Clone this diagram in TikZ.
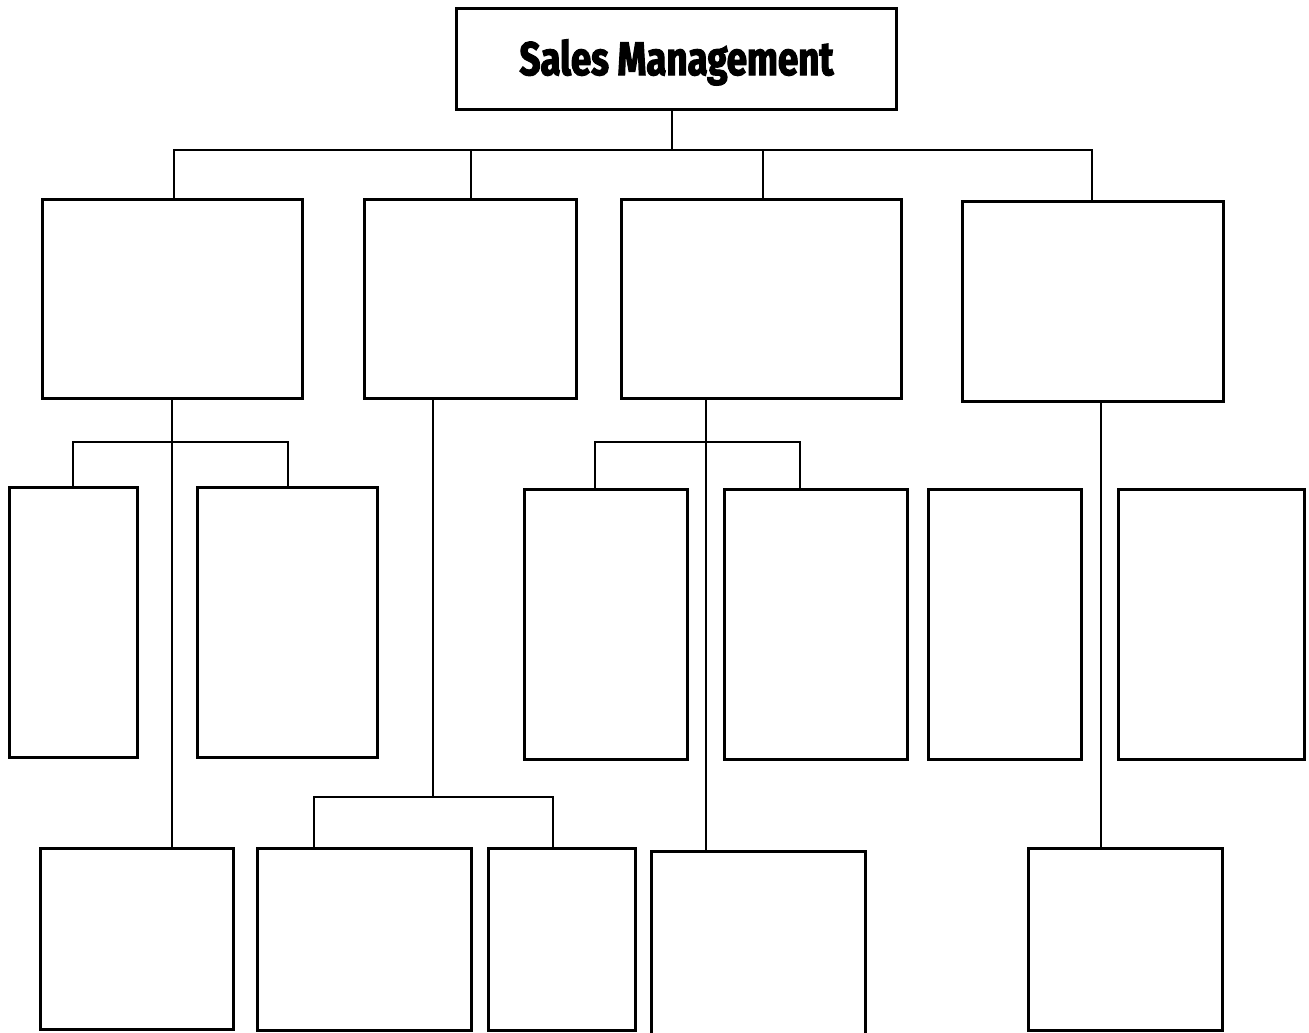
\documentclass[tikz,border=0pt]{standalone}
\usepackage{fontspec}
\newfontfamily\titlefont[FakeStretch=0.78,FakeBold=2.5]{Fira Sans}
\begin{document}
\begin{tikzpicture}[x=1pt,y=-1pt,
  box/.style={draw=black,line width=2.6pt,fill=white,inner sep=0pt,rectangle},
  conn/.style={draw=black,line width=2.4pt}]
\useasboundingbox (0,0) rectangle (1309,1033);
\fill[white] (0,0) rectangle (1309,1033);
% top
\node[box,minimum width=440pt,minimum height=101pt] (T) at (676.5,59) {};
\node[anchor=base,inner sep=0pt] (Tt) at (676.5,75)
  {\titlefont\fontsize{47}{50}\selectfont\bfseries Sales Management};
% level 2
\node[box,minimum width=260pt,minimum height=199pt] (A) at (172.5,299) {};
\node[box,minimum width=212pt,minimum height=199pt] (B) at (470.5,299) {};
\node[box,minimum width=280pt,minimum height=199pt] (C) at (761.5,299) {};
\node[box,minimum width=261pt,minimum height=200pt] (D) at (1093,301.5) {};
% level 3
\node[box,minimum width=128pt,minimum height=270pt] (F) at (73.5,622.5) {};
\node[box,minimum width=180pt,minimum height=270pt] (G) at (287.5,622.5) {};
\node[box,minimum width=163pt,minimum height=270pt] (J) at (606,624.5) {};
\node[box,minimum width=183pt,minimum height=270pt] (K) at (816,624.5) {};
\node[box,minimum width=153pt,minimum height=270pt] (M) at (1005,624.5) {};
\node[box,minimum width=186pt,minimum height=270pt] (N) at (1211.5,624.5) {};
% level 4
\node[box,minimum width=193pt,minimum height=181pt] (E) at (137,939) {};
\node[box,minimum width=214pt,minimum height=182pt] (H) at (364.5,939.5) {};
\node[box,minimum width=147pt,minimum height=182pt] (I) at (562,939.5) {};
\node[box,minimum width=214pt,minimum height=200pt] (L) at (758.5,951.5) {};
\node[box,minimum width=194pt,minimum height=182pt] (O) at (1125.5,939.5) {};
% connectors
\coordinate (t1) at (672,150);
\draw[conn] (T.south -| t1) -- (t1);
\draw[conn] (A.north -| 174,0) -- (174,150) -- (1092,150) -- (D.north -| 1092,0);
\draw[conn] (B.north -| 471,0) -- (471,150);
\draw[conn] (C.north -| 763,0) -- (763,150);
% A branch
\coordinate (a1) at (172,442);
\draw[conn] (A.south -| a1) -- (E.north -| a1);
\draw[conn] (F.north -| 73,0) -- (73,442) -- (288,442) -- (G.north -| 288,0);
% B branch
\coordinate (b2) at (433,797);
\draw[conn] (B.south -| b2) -- (b2);
\draw[conn] (H.north -| 314,0) -- (314,797) -- (553,797) -- (I.north -| 553,0);
% C branch
\coordinate (c1) at (706,442);
\draw[conn] (C.south -| c1) -- (L.north -| c1);
\draw[conn] (J.north -| 595,0) -- (595,442) -- (800,442) -- (K.north -| 800,0);
% D branch
\coordinate (d1) at (1101,500);
\draw[conn] (D.south -| d1) -- (O.north -| d1);
\end{tikzpicture}
\end{document}
